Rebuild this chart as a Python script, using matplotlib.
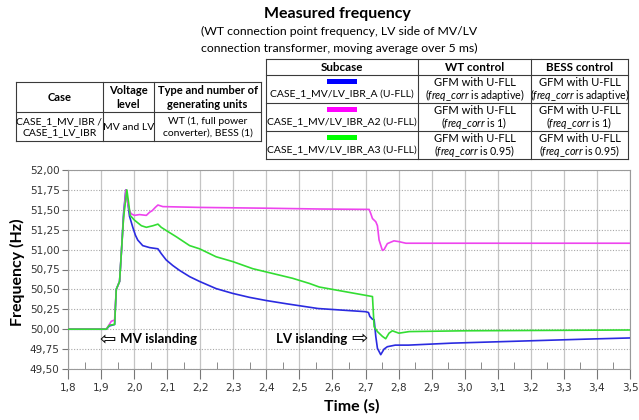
import matplotlib
matplotlib.use('Agg')
import matplotlib.pyplot as plt
from matplotlib.patches import Rectangle
from matplotlib.ticker import FuncFormatter, MultipleLocator

plt.rcParams['font.family'] = ['Lato', 'DejaVu Sans']
plt.rcParams['mathtext.fontset'] = 'custom'
plt.rcParams['mathtext.it'] = 'Lato:italic'
plt.rcParams['mathtext.rm'] = 'Lato'

# --- data ---
t_a = [1.80, 1.916, 1.925, 1.941, 1.946, 1.956, 1.962, 1.968, 1.975, 1.980, 1.986, 1.996,
       2.004, 2.011, 2.026, 2.047, 2.072, 2.082, 2.097, 2.117, 2.137, 2.168, 2.198, 2.248,
       2.298, 2.349, 2.400, 2.460, 2.556, 2.700, 2.709, 2.713, 2.721, 2.726, 2.731, 2.736,
       2.746, 2.756, 2.766, 2.790, 2.830, 2.962, 3.164, 3.365, 3.500]
f_a = [50.00, 50.00, 50.04, 50.06, 50.50, 50.60, 51.00, 51.45, 51.75, 51.62, 51.42, 51.28,
       51.18, 51.12, 51.05, 51.025, 51.01, 50.95, 50.87, 50.80, 50.74, 50.66, 50.60, 50.51,
       50.45, 50.40, 50.36, 50.32, 50.26, 50.22, 50.21, 50.16, 50.125, 50.12, 49.91, 49.76,
       49.68, 49.75, 49.78, 49.80, 49.80, 49.825, 49.85, 49.875, 49.89]

t_a2 = [1.80, 1.916, 1.931, 1.938, 1.941, 1.946, 1.956, 1.962, 1.968, 1.975, 1.980, 1.986,
        1.991, 2.001, 2.016, 2.037, 2.047, 2.055, 2.064, 2.072, 2.087, 2.198, 2.400, 2.560,
        2.711, 2.716, 2.721, 2.731, 2.736, 2.741, 2.751, 2.756, 2.766, 2.786, 2.801, 2.822,
        3.500]
f_a2 = [50.00, 50.00, 50.10, 50.11, 50.12, 50.50, 50.60, 51.00, 51.40, 51.75, 51.60, 51.49,
        51.45, 51.43, 51.44, 51.43, 51.47, 51.49, 51.53, 51.56, 51.54, 51.53, 51.52, 51.51,
        51.505, 51.45, 51.39, 51.35, 51.30, 51.12, 50.99, 51.00, 51.075, 51.11, 51.10, 51.08,
        51.08]

t_a3 = [1.80, 1.916, 1.925, 1.941, 1.946, 1.956, 1.962, 1.968, 1.978, 1.983, 1.988, 2.001,
        2.022, 2.037, 2.057, 2.072, 2.082, 2.097, 2.128, 2.168, 2.198, 2.248, 2.298, 2.359,
        2.419, 2.479, 2.530, 2.560, 2.721, 2.726, 2.736, 2.751, 2.761, 2.771, 2.781, 2.801,
        2.832, 3.000, 3.500]
f_a3 = [50.00, 50.00, 50.05, 50.06, 50.50, 50.60, 51.00, 51.40, 51.75, 51.60, 51.43, 51.37,
        51.30, 51.28, 51.30, 51.32, 51.28, 51.24, 51.16, 51.05, 51.01, 50.91, 50.85, 50.76,
        50.70, 50.64, 50.575, 50.53, 50.41, 50.03, 49.97, 49.91, 49.88, 49.95, 49.98, 49.95,
        49.97, 49.98, 49.99]

subcases = ['CASE_1_MV/LV_IBR_A (U-FLL)', 'CASE_1_MV/LV_IBR_A2 (U-FLL)', 'CASE_1_MV/LV_IBR_A3 (U-FLL)']
corr = ['adaptive', '1', '0.95']
line_colors = ['#2b2be0', '#ee44ee', '#33dd33']
bar_colors = ['#0000ff', '#ff00ff', '#00ff00']

fig = plt.figure(figsize=(6.39, 4.2), dpi=100)
ax = fig.add_axes([68 / 639, 1 - 369 / 420, 562 / 639, 199 / 420])

ax.plot(t_a, f_a, color=line_colors[0], lw=1.2, zorder=3)
ax.plot(t_a2, f_a2, color=line_colors[1], lw=1.2, zorder=3)
ax.plot(t_a3, f_a3, color=line_colors[2], lw=1.2, zorder=4)

ax.set_xlim(1.8, 3.5)
ax.set_ylim(49.5, 52.0)
ax.xaxis.set_major_locator(MultipleLocator(0.1))
ax.xaxis.set_minor_locator(MultipleLocator(0.05))
ax.yaxis.set_major_locator(MultipleLocator(0.25))
ax.xaxis.set_major_formatter(FuncFormatter(lambda v, p: f'{v:.1f}'.replace('.', ',')))
ax.yaxis.set_major_formatter(FuncFormatter(lambda v, p: f'{v:.2f}'.replace('.', ',')))
ax.grid(axis='x', color='#c4c4c4', lw=0.9, ls='-')
ax.grid(axis='y', color='#a8a8a8', lw=0.8, ls=(0, (1, 1.5)))
ax.set_axisbelow(True)
for s in ax.spines.values():
    s.set_color('#9a9a9a')
ax.tick_params(axis='x', which='major', direction='out', length=7, color='#777', pad=3)
ax.tick_params(axis='x', which='minor', direction='in', length=5, color='#777')
ax.tick_params(axis='y', which='major', direction='out', length=4, color='#777', pad=2)
for lab in ax.get_xticklabels() + ax.get_yticklabels():
    lab.set_fontfamily('DejaVu Sans')
    lab.set_fontsize(7.5)
    lab.set_color('#333333')

ax.set_ylabel('Frequency (Hz)', fontsize=11.5, fontweight='bold')
ax.yaxis.set_label_coords(-0.077, 0.485)
ax.set_xlabel('Time (s)', fontsize=11.5, fontweight='bold')
ax.xaxis.set_label_coords(0.505, -0.15)

# islanding markers
ax.text(1.896, 49.868, '\u21e6', fontsize=14, ha='left', va='center')
ax.text(1.957, 49.875, 'MV islanding', fontsize=9.5, fontweight='bold', ha='left', va='center')
ax.text(2.645, 49.88, 'LV islanding', fontsize=9.5, fontweight='bold', ha='right', va='center')
ax.text(2.656, 49.873, '\u21e8', fontsize=14, ha='left', va='center')

# --- header area: title and the two description tables ---
ov = fig.add_axes([0, 0, 1, 1])
ov.set_xlim(0, 639)
ov.set_ylim(420, 0)
ov.axis('off')

ov.text(264, 14, 'Measured frequency', fontsize=11.5, fontweight='bold', ha='left', va='center')
ov.text(201, 31, '(WT connection point frequency, LV side of MV/LV', fontsize=8.8,
        ha='left', va='center')
ov.text(201, 48, 'connection transformer, moving average over 5 ms)', fontsize=8.8,
        ha='left', va='center')

edge = '#3a3a3a'

# left table
lx = [16, 103, 154, 261]
ly = [82, 112, 141]
for x in lx:
    ov.plot([x, x], [ly[0], ly[-1]], color=edge, lw=0.8)
for y in ly:
    ov.plot([lx[0], lx[-1]], [y, y], color=edge, lw=0.8)
left_head = ['Case', 'Voltage\nlevel', 'Type and number of\ngenerating units']
left_body = ['CASE_1_MV_IBR /\nCASE_1_LV_IBR', 'MV and LV', 'WT (1, full power\nconverter), BESS (1)']
for i in range(3):
    cx = (lx[i] + lx[i + 1]) / 2
    ov.text(cx, (ly[0] + ly[1]) / 2 + 0.5, left_head[i], fontsize=8.0, fontweight='bold',
            ha='center', va='center', linespacing=1.25)
    ov.text(cx, (ly[1] + ly[2]) / 2 + 0.5, left_body[i], fontsize=7.5,
            ha='center', va='center', linespacing=1.25)

# right table
rx = [266, 418, 531, 628]
ry = [59, 75, 103, 131, 159]
for x in rx:
    ov.plot([x, x], [ry[0], ry[-1]], color=edge, lw=0.8)
for y in ry:
    ov.plot([rx[0], rx[-1]], [y, y], color=edge, lw=0.8)
for i, h in enumerate(['Subcase', 'WT control', 'BESS control']):
    ov.text((rx[i] + rx[i + 1]) / 2, (ry[0] + ry[1]) / 2 + 0.5, h, fontsize=8.4,
            fontweight='bold', ha='center', va='center')
for r in range(3):
    top = ry[r + 1]
    cx0 = (rx[0] + rx[1]) / 2
    ov.add_patch(Rectangle((cx0 - 15, top + 4), 30, 5, facecolor=bar_colors[r],
                           edgecolor='none'))
    ov.text(cx0, top + 19, subcases[r], fontsize=7.5, ha='center', va='center')
    for c in (1, 2):
        cx = (rx[c] + rx[c + 1]) / 2
        ov.text(cx, top + 8, 'GFM with U-FLL', fontsize=8.0, ha='center', va='center')
        ov.text(cx, top + 20, r'($\mathit{freq\_corr}$ is ' + corr[r] + ')', fontsize=7.7,
                ha='center', va='center')

fig.savefig('out.png', dpi=100)
